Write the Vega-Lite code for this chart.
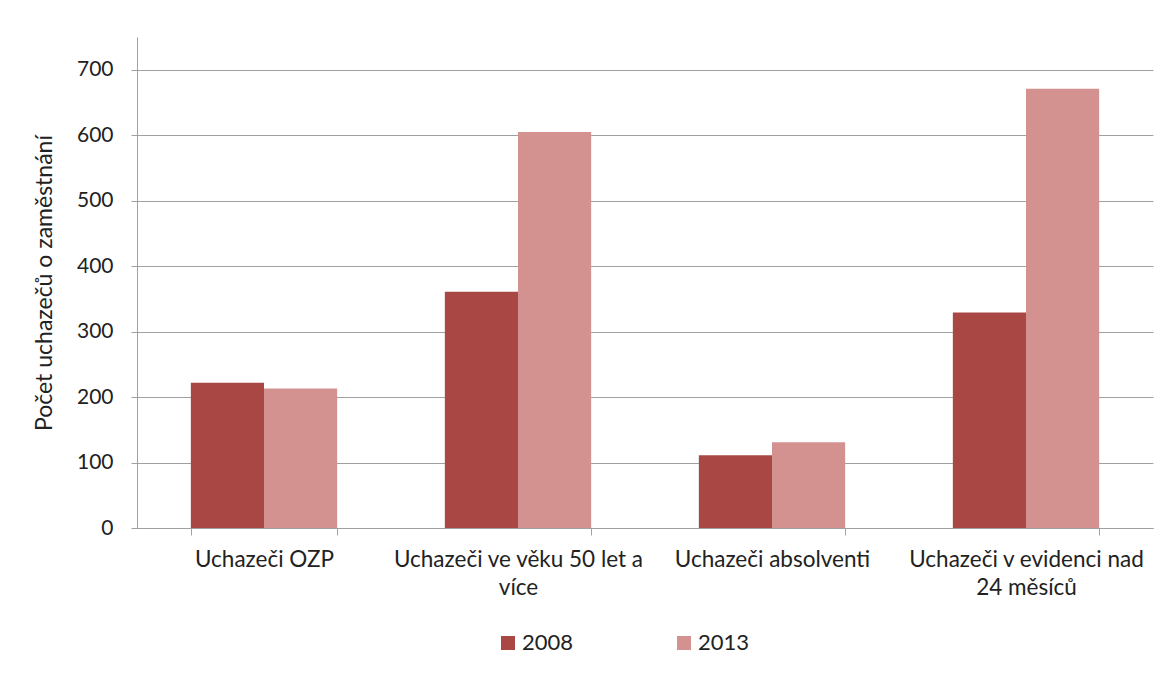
{
  "$schema": "https://vega.github.io/schema/vega-lite/v6.json",
  "autosize": {"type": "none"},
  "width": 1016,
  "height": 491,
  "padding": {"left": 137, "top": 37, "right": 17, "bottom": 147},
  "background": "white",
  "data": {
    "values": [
      {"kategorie": "Uchazeči OZP", "rok": "2008", "pocet": 222},
      {"kategorie": "Uchazeči OZP", "rok": "2013", "pocet": 213},
      {"kategorie": "Uchazeči ve věku 50 let a více", "rok": "2008", "pocet": 361},
      {"kategorie": "Uchazeči ve věku 50 let a více", "rok": "2013", "pocet": 605},
      {"kategorie": "Uchazeči absolventi", "rok": "2008", "pocet": 111},
      {"kategorie": "Uchazeči absolventi", "rok": "2013", "pocet": 131},
      {"kategorie": "Uchazeči v evidenci nad 24 měsíců", "rok": "2008", "pocet": 329},
      {"kategorie": "Uchazeči v evidenci nad 24 měsíců", "rok": "2013", "pocet": 671}
    ]
  },
  "mark": {"type": "bar"},
  "encoding": {
    "x": {
      "field": "kategorie",
      "type": "nominal",
      "sort": null,
      "scale": {"paddingInner": 0.424, "paddingOuter": 0.212},
      "axis": {
        "title": null,
        "labelAngle": 0,
        "tickBand": "extent",
        "tickSize": 7,
        "tickColor": "#a0a0a0",
        "domainColor": "#a0a0a0",
        "labelFont": "Lato",
        "labelFontSize": 22.5,
        "labelColor": "#222222",
        "labelPadding": 13,
        "labelLineHeight": 28,
        "labelLimit": 0,
        "labelExpr": "datum.value == 'Uchazeči ve věku 50 let a více' ? ['Uchazeči ve věku 50 let a', 'více'] : datum.value == 'Uchazeči v evidenci nad 24 měsíců' ? ['Uchazeči v evidenci nad', '24 měsíců'] : datum.value",
        "labelBaseline": "top",
        "grid": false
      }
    },
    "xOffset": {"field": "rok", "type": "nominal", "scale": {"paddingInner": 0, "paddingOuter": 0}},
    "y": {
      "field": "pocet",
      "type": "quantitative",
      "scale": {"domain": [0, 750], "nice": false},
      "axis": {
        "title": "Počet uchazečů o zaměstnání",
        "titleFont": "Lato",
        "titleFontSize": 23,
        "titleFontWeight": "normal",
        "titleColor": "#222222",
        "titlePadding": 20,
        "values": [0, 100, 200, 300, 400, 500, 600, 700],
        "labelFont": "Lato",
        "labelFontSize": 21,
        "labelColor": "#222222",
        "labelPadding": 18,
        "tickSize": 6,
        "tickColor": "#a0a0a0",
        "domainColor": "#a0a0a0",
        "gridColor": "#a0a0a0",
        "gridWidth": 1
      }
    },
    "color": {
      "field": "rok",
      "type": "nominal",
      "scale": {"domain": ["2008", "2013"], "range": ["#A84744", "#D39190"]},
      "legend": {
        "title": null,
        "orient": "none",
        "legendX": 360,
        "legendY": 595,
        "direction": "horizontal",
        "symbolType": "square",
        "symbolSize": 196,
        "symbolStrokeWidth": 0,
        "labelFont": "Lato",
        "labelFontSize": 22,
        "labelColor": "#222222",
        "labelOffset": 3,
        "columnPadding": 99
      }
    }
  },
  "config": {"view": {"stroke": null}}
}
